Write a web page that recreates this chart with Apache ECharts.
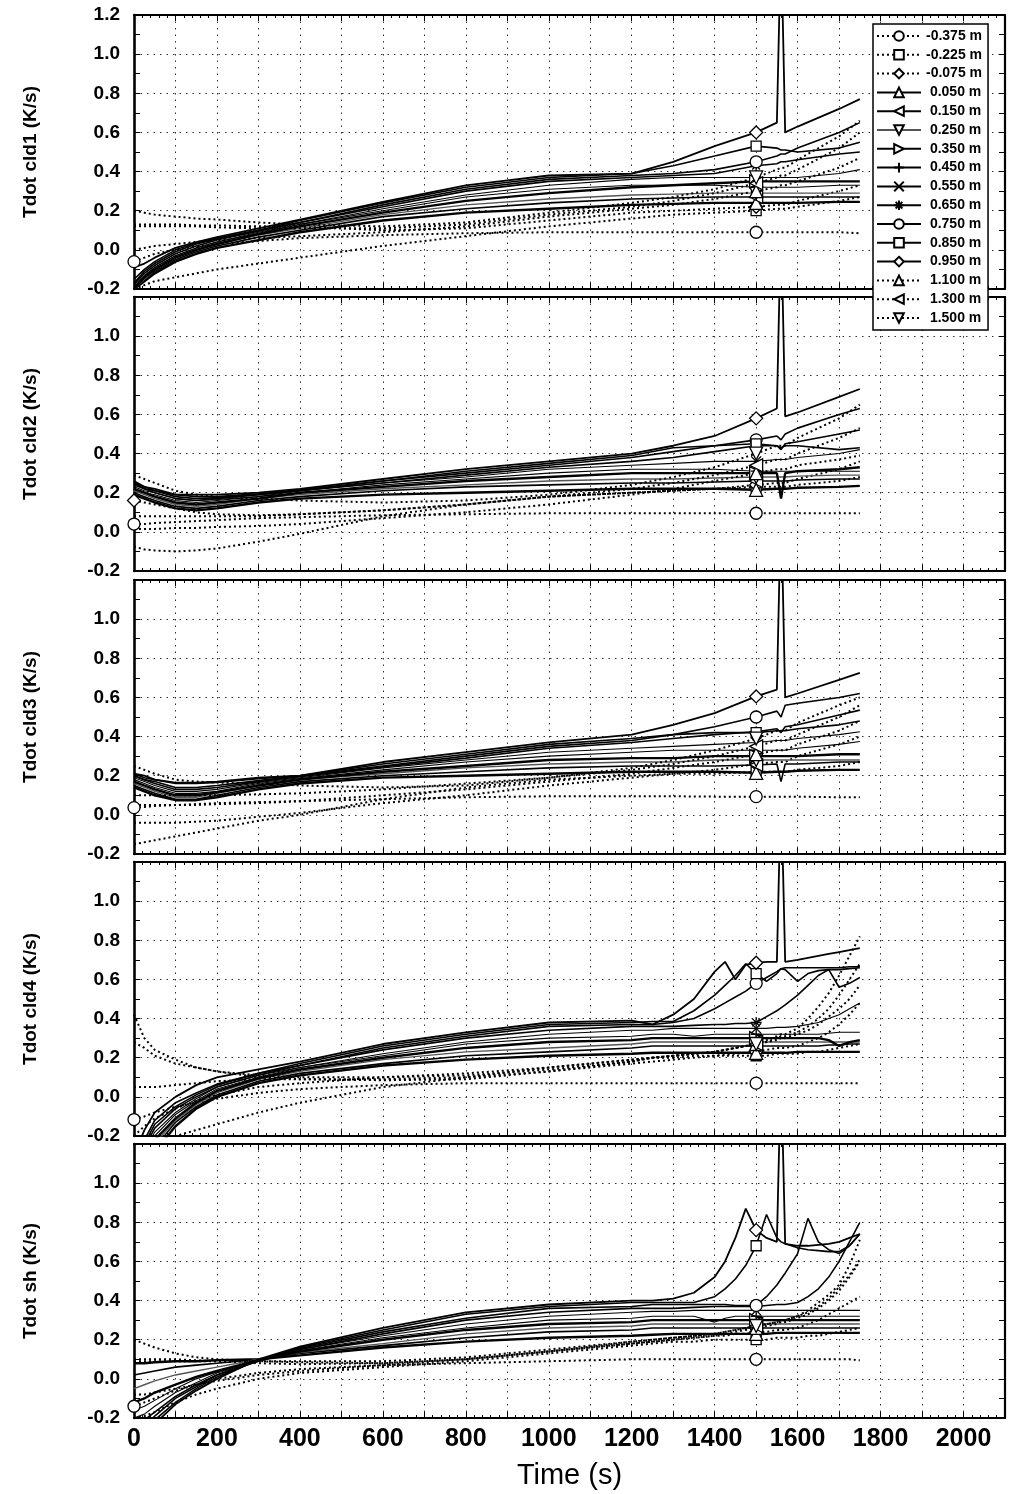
<!DOCTYPE html>
<html>
<head>
<meta charset="utf-8">
<script src="https://cdn.jsdelivr.net/npm/echarts@6/dist/echarts.min.js"></script>
<style>
  html, body { margin: 0; padding: 0; background: #fff; }
  #chart { width: 1009px; height: 1494px; }
</style>
</head>
<body>
<div id="chart"></div>
<script>
// Thermocouple depths (legend order)
const depths = ['-0.375 m', '-0.225 m', '-0.075 m', '0.050 m', '0.150 m', '0.250 m', '0.350 m', '0.450 m',
  '0.550 m', '0.650 m', '0.750 m', '0.850 m', '0.950 m', '1.100 m', '1.300 m', '1.500 m'];

const panelTitles = ['Tdot cld1 (K/s)', 'Tdot cld2 (K/s)', 'Tdot cld3 (K/s)', 'Tdot cld4 (K/s)', 'Tdot sh (K/s)'];

// Sample times (s)
const timeShort = [0, 25, 50, 100, 150, 200, 300, 400, 600, 800, 1000, 1200, 1300, 1400, 1500, 1550, 1560, 1570, 1600, 1700, 1750];
const timeLong = [0, 25, 50, 100, 150, 200, 300, 400, 600, 800, 1000, 1200, 1250, 1300, 1350, 1400, 1425, 1450, 1475, 1500,
  1525, 1550, 1560, 1570, 1600, 1625, 1650, 1675, 1700, 1725, 1750];

// Heating rates (K/s), one row per depth, sampled at timeShort
const cld1 = [
  [-0.06, -0.04, -0.02, 0.0, 0.02, 0.03, 0.045, 0.06, 0.075, 0.085, 0.09, 0.09, 0.09, 0.09, 0.09, 0.09, 0.09, 0.09, 0.09, 0.09, 0.085],
  [-0.2, -0.18, -0.16, -0.14, -0.12, -0.1, -0.07, -0.04, 0.02, 0.07, 0.12, 0.16, 0.18, 0.19, 0.2, 0.21, 0.21, 0.21, 0.22, 0.25, 0.27],
  [0.13, 0.13, 0.13, 0.13, 0.125, 0.125, 0.12, 0.12, 0.1, 0.11, 0.15, 0.19, 0.2, 0.21, 0.22, 0.23, 0.23, 0.23, 0.25, 0.3, 0.33],
  [-0.2, -0.16, -0.12, -0.06, -0.02, 0.01, 0.05, 0.09, 0.15, 0.19, 0.21, 0.23, 0.235, 0.24, 0.24, 0.24, 0.24, 0.24, 0.24, 0.245, 0.245],
  [-0.19, -0.15, -0.11, -0.05, -0.01, 0.02, 0.065, 0.1, 0.17, 0.21, 0.24, 0.26, 0.265, 0.27, 0.27, 0.27, 0.27, 0.27, 0.27, 0.27, 0.27],
  [-0.2, -0.15, -0.1, -0.04, 0.0, 0.03, 0.075, 0.11, 0.18, 0.23, 0.26, 0.28, 0.285, 0.29, 0.29, 0.29, 0.29, 0.29, 0.29, 0.29, 0.29],
  [-0.2, -0.14, -0.1, -0.04, 0.0, 0.03, 0.08, 0.12, 0.19, 0.25, 0.29, 0.32, 0.33, 0.34, 0.35, 0.35, 0.35, 0.35, 0.35, 0.35, 0.35],
  [-0.2, -0.14, -0.09, -0.03, 0.01, 0.04, 0.085, 0.13, 0.2, 0.27, 0.31, 0.33, 0.33, 0.33, 0.32, 0.32, 0.32, 0.32, 0.32, 0.33, 0.33],
  [-0.19, -0.13, -0.09, -0.03, 0.01, 0.04, 0.09, 0.13, 0.21, 0.28, 0.33, 0.36, 0.37, 0.37, 0.37, 0.37, 0.37, 0.37, 0.37, 0.39, 0.41],
  [-0.18, -0.12, -0.08, -0.02, 0.02, 0.05, 0.095, 0.14, 0.22, 0.3, 0.35, 0.37, 0.38, 0.39, 0.43, 0.44, 0.45, 0.45, 0.46, 0.49, 0.5],
  [-0.17, -0.11, -0.07, -0.01, 0.03, 0.055, 0.1, 0.14, 0.23, 0.31, 0.36, 0.38, 0.39, 0.41, 0.45, 0.48, 0.49, 0.49, 0.52, 0.6, 0.65],
  [-0.15, -0.1, -0.06, 0.0, 0.035, 0.06, 0.1, 0.15, 0.24, 0.32, 0.37, 0.39, 0.43, 0.48, 0.53, 0.52, 0.51, 0.51, 0.5, 0.52, 0.55],
  [-0.09, -0.07, -0.04, 0.01, 0.04, 0.065, 0.11, 0.155, 0.245, 0.33, 0.38, 0.39, 0.45, 0.53, 0.6, 0.65, 1.6, 0.6, 0.63, 0.72, 0.77],
  [0.0, 0.01, 0.02, 0.03, 0.04, 0.05, 0.06, 0.07, 0.09, 0.12, 0.17, 0.21, 0.23, 0.26, 0.3, 0.32, 0.33, 0.33, 0.35, 0.42, 0.47],
  [0.12, 0.12, 0.12, 0.12, 0.12, 0.115, 0.11, 0.11, 0.11, 0.13, 0.18, 0.22, 0.25, 0.29, 0.34, 0.37, 0.38, 0.38, 0.41, 0.52, 0.6],
  [0.2, 0.19, 0.18, 0.17, 0.16, 0.155, 0.14, 0.13, 0.12, 0.14, 0.19, 0.24, 0.27, 0.31, 0.37, 0.41, 0.42, 0.42, 0.46, 0.58, 0.66]
];

const cld2 = [
  [0.04, 0.04, 0.045, 0.05, 0.055, 0.06, 0.07, 0.075, 0.085, 0.09, 0.095, 0.095, 0.095, 0.095, 0.095, 0.095, 0.095, 0.095, 0.095, 0.095, 0.095],
  [-0.075, -0.09, -0.095, -0.1, -0.095, -0.085, -0.05, -0.01, 0.08, 0.14, 0.18, 0.2, 0.21, 0.22, 0.23, 0.23, 0.23, 0.23, 0.24, 0.26, 0.28],
  [0.16, 0.15, 0.14, 0.12, 0.1, 0.09, 0.085, 0.09, 0.11, 0.14, 0.18, 0.2, 0.21, 0.22, 0.24, 0.25, 0.25, 0.25, 0.27, 0.32, 0.36],
  [0.19, 0.17, 0.15, 0.12, 0.11, 0.12, 0.15, 0.17, 0.19, 0.2, 0.21, 0.22, 0.22, 0.22, 0.215, 0.22, 0.22, 0.22, 0.225, 0.23, 0.235],
  [0.2, 0.18, 0.16, 0.13, 0.12, 0.13, 0.16, 0.18, 0.21, 0.23, 0.24, 0.25, 0.25, 0.255, 0.26, 0.26, 0.26, 0.26, 0.265, 0.27, 0.27],
  [0.21, 0.19, 0.17, 0.14, 0.13, 0.14, 0.17, 0.19, 0.22, 0.24, 0.26, 0.27, 0.27, 0.275, 0.28, 0.28, 0.28, 0.28, 0.285, 0.29, 0.29],
  [0.22, 0.2, 0.18, 0.15, 0.14, 0.15, 0.17, 0.2, 0.23, 0.26, 0.28, 0.3, 0.3, 0.3, 0.3, 0.3, 0.17, 0.3, 0.31, 0.32, 0.33],
  [0.22, 0.2, 0.19, 0.16, 0.15, 0.16, 0.18, 0.2, 0.24, 0.27, 0.3, 0.32, 0.32, 0.32, 0.31, 0.31, 0.31, 0.31, 0.31, 0.31, 0.31],
  [0.23, 0.21, 0.2, 0.17, 0.16, 0.165, 0.18, 0.21, 0.25, 0.28, 0.32, 0.34, 0.35, 0.36, 0.36, 0.37, 0.37, 0.37, 0.38, 0.4, 0.42],
  [0.24, 0.22, 0.2, 0.17, 0.16, 0.17, 0.19, 0.21, 0.25, 0.29, 0.33, 0.36, 0.38, 0.41, 0.44, 0.44, 0.42, 0.45, 0.46, 0.5, 0.52],
  [0.25, 0.22, 0.21, 0.18, 0.17, 0.175, 0.19, 0.21, 0.26, 0.3, 0.34, 0.38, 0.41, 0.44, 0.47, 0.49, 0.47, 0.5, 0.53, 0.6, 0.63],
  [0.25, 0.23, 0.21, 0.19, 0.18, 0.18, 0.195, 0.215, 0.26, 0.31, 0.35, 0.39, 0.43, 0.44, 0.45, 0.44, 0.43, 0.44, 0.44, 0.42, 0.43],
  [0.26, 0.23, 0.22, 0.19, 0.19, 0.19, 0.2, 0.22, 0.27, 0.32, 0.36, 0.4, 0.44, 0.49, 0.58, 0.63, 1.6, 0.59, 0.61, 0.69, 0.73],
  [0.015, 0.015, 0.015, 0.02, 0.02, 0.025, 0.03, 0.04, 0.07, 0.1, 0.14, 0.19, 0.22, 0.26, 0.3, 0.32, 0.32, 0.32, 0.34, 0.37, 0.39],
  [0.08, 0.08, 0.08, 0.08, 0.08, 0.08, 0.08, 0.09, 0.11, 0.14, 0.18, 0.22, 0.25, 0.29, 0.34, 0.37, 0.37, 0.37, 0.4, 0.48, 0.53],
  [0.29, 0.27, 0.25, 0.21, 0.19, 0.18, 0.17, 0.16, 0.15, 0.16, 0.19, 0.24, 0.28, 0.33, 0.4, 0.44, 0.44, 0.44, 0.48, 0.58, 0.65]
];

const cld3 = [
  [0.037, 0.04, 0.045, 0.05, 0.055, 0.06, 0.065, 0.07, 0.08, 0.09, 0.095, 0.095, 0.095, 0.093, 0.093, 0.093, 0.093, 0.093, 0.093, 0.09, 0.09],
  [-0.15, -0.14, -0.13, -0.11, -0.09, -0.07, -0.03, 0.0, 0.08, 0.14, 0.18, 0.2, 0.21, 0.21, 0.22, 0.22, 0.22, 0.22, 0.23, 0.25, 0.27],
  [-0.04, -0.04, -0.04, -0.04, -0.035, -0.03, -0.01, 0.01, 0.06, 0.1, 0.15, 0.19, 0.21, 0.23, 0.26, 0.27, 0.27, 0.27, 0.3, 0.36, 0.4],
  [0.14, 0.12, 0.1, 0.075, 0.075, 0.09, 0.13, 0.16, 0.19, 0.2, 0.21, 0.22, 0.22, 0.22, 0.215, 0.22, 0.22, 0.22, 0.225, 0.23, 0.23],
  [0.15, 0.13, 0.11, 0.08, 0.08, 0.1, 0.14, 0.17, 0.2, 0.22, 0.24, 0.25, 0.25, 0.25, 0.255, 0.26, 0.17, 0.26, 0.26, 0.27, 0.27],
  [0.16, 0.14, 0.12, 0.09, 0.09, 0.11, 0.15, 0.18, 0.21, 0.24, 0.26, 0.27, 0.27, 0.28, 0.28, 0.28, 0.28, 0.28, 0.28, 0.28, 0.28],
  [0.17, 0.15, 0.13, 0.1, 0.1, 0.115, 0.15, 0.18, 0.22, 0.25, 0.28, 0.29, 0.29, 0.3, 0.3, 0.3, 0.3, 0.3, 0.3, 0.31, 0.31],
  [0.18, 0.16, 0.14, 0.11, 0.11, 0.12, 0.16, 0.185, 0.23, 0.27, 0.3, 0.32, 0.33, 0.33, 0.33, 0.33, 0.33, 0.33, 0.34, 0.36, 0.375],
  [0.19, 0.17, 0.15, 0.12, 0.12, 0.13, 0.165, 0.19, 0.24, 0.28, 0.32, 0.34, 0.35, 0.36, 0.37, 0.38, 0.38, 0.38, 0.39, 0.41, 0.425],
  [0.2, 0.18, 0.16, 0.13, 0.13, 0.14, 0.17, 0.195, 0.245, 0.29, 0.34, 0.37, 0.39, 0.41, 0.425, 0.44, 0.42, 0.45, 0.46, 0.51, 0.535],
  [0.2, 0.18, 0.17, 0.14, 0.14, 0.15, 0.175, 0.2, 0.25, 0.3, 0.35, 0.38, 0.41, 0.45, 0.5, 0.53, 0.5, 0.56, 0.57, 0.6, 0.62],
  [0.21, 0.19, 0.18, 0.16, 0.16, 0.165, 0.185, 0.2, 0.26, 0.31, 0.36, 0.39, 0.41, 0.42, 0.42, 0.43, 0.43, 0.43, 0.44, 0.46, 0.48],
  [0.21, 0.2, 0.18, 0.165, 0.165, 0.17, 0.19, 0.2, 0.27, 0.32, 0.37, 0.41, 0.46, 0.52, 0.605, 0.64, 1.6, 0.6, 0.62, 0.69, 0.725],
  [0.05, 0.05, 0.05, 0.05, 0.05, 0.055, 0.06, 0.07, 0.1, 0.13, 0.17, 0.21, 0.24, 0.27, 0.31, 0.33, 0.33, 0.33, 0.36, 0.43, 0.48],
  [0.1, 0.1, 0.1, 0.1, 0.1, 0.1, 0.105, 0.11, 0.13, 0.16, 0.19, 0.23, 0.26, 0.3, 0.35, 0.38, 0.38, 0.38, 0.41, 0.5, 0.56],
  [0.25, 0.23, 0.21, 0.18, 0.17, 0.165, 0.16, 0.15, 0.14, 0.15, 0.19, 0.24, 0.28, 0.33, 0.39, 0.43, 0.43, 0.43, 0.47, 0.56, 0.6]
];

// Sampled at timeLong
const cld4 = [
  [-0.116, -0.1, -0.08, -0.05, -0.03, -0.01, 0.02, 0.04, 0.06, 0.07, 0.07, 0.07, 0.07, 0.07, 0.07, 0.07, 0.07, 0.07, 0.07, 0.07, 0.07, 0.07, 0.07, 0.07, 0.07, 0.07, 0.07, 0.07, 0.07, 0.07, 0.07],
  [-0.3, -0.27, -0.24, -0.2, -0.17, -0.14, -0.08, -0.03, 0.05, 0.1, 0.15, 0.19, 0.2, 0.2, 0.21, 0.21, 0.21, 0.21, 0.21, 0.21, 0.21, 0.22, 0.22, 0.22, 0.22, 0.23, 0.23, 0.24, 0.25, 0.26, 0.27],
  [0.05, 0.05, 0.05, 0.06, 0.07, 0.08, 0.09, 0.09, 0.09, 0.1, 0.13, 0.17, 0.18, 0.19, 0.2, 0.21, 0.215, 0.22, 0.225, 0.23, 0.24, 0.25, 0.25, 0.25, 0.26, 0.28, 0.3, 0.33, 0.37, 0.42, 0.48],
  [-0.5, -0.38, -0.28, -0.15, -0.06, 0.0, 0.07, 0.11, 0.16, 0.19, 0.21, 0.22, 0.225, 0.225, 0.225, 0.225, 0.225, 0.225, 0.225, 0.225, 0.225, 0.225, 0.225, 0.225, 0.23, 0.23, 0.23, 0.23, 0.23, 0.23, 0.23],
  [-0.48, -0.36, -0.26, -0.13, -0.05, 0.01, 0.08, 0.12, 0.17, 0.21, 0.23, 0.25, 0.26, 0.26, 0.26, 0.26, 0.26, 0.26, 0.26, 0.26, 0.26, 0.26, 0.26, 0.26, 0.26, 0.26, 0.26, 0.265, 0.265, 0.27, 0.27],
  [-0.46, -0.34, -0.24, -0.12, -0.04, 0.02, 0.09, 0.13, 0.19, 0.23, 0.25, 0.27, 0.28, 0.28, 0.28, 0.28, 0.28, 0.28, 0.28, 0.28, 0.28, 0.28, 0.28, 0.28, 0.28, 0.28, 0.28, 0.28, 0.28, 0.28, 0.28],
  [-0.44, -0.32, -0.22, -0.11, -0.03, 0.03, 0.095, 0.14, 0.2, 0.25, 0.28, 0.29, 0.3, 0.3, 0.3, 0.3, 0.3, 0.3, 0.3, 0.3, 0.3, 0.3, 0.3, 0.3, 0.3, 0.3, 0.3, 0.29, 0.26, 0.28, 0.29],
  [-0.42, -0.3, -0.2, -0.09, -0.02, 0.04, 0.1, 0.15, 0.21, 0.27, 0.3, 0.31, 0.32, 0.32, 0.31, 0.32, 0.32, 0.32, 0.32, 0.32, 0.32, 0.32, 0.32, 0.32, 0.32, 0.32, 0.32, 0.325, 0.33, 0.33, 0.33],
  [-0.4, -0.28, -0.18, -0.08, -0.01, 0.05, 0.11, 0.15, 0.22, 0.28, 0.32, 0.34, 0.34, 0.35, 0.35, 0.35, 0.35, 0.35, 0.35, 0.35, 0.35, 0.355, 0.355, 0.355, 0.36, 0.37, 0.38, 0.4, 0.42, 0.45, 0.48],
  [-0.38, -0.26, -0.16, -0.06, 0.0, 0.05, 0.11, 0.16, 0.24, 0.3, 0.34, 0.36, 0.36, 0.36, 0.365, 0.37, 0.37, 0.375, 0.375, 0.38, 0.41, 0.44, 0.455, 0.47, 0.52, 0.57, 0.62, 0.65, 0.56, 0.58, 0.61],
  [-0.36, -0.24, -0.14, -0.05, 0.01, 0.06, 0.12, 0.16, 0.25, 0.31, 0.36, 0.37, 0.37, 0.38, 0.4, 0.45, 0.48, 0.51, 0.54, 0.58, 0.61, 0.64, 0.655, 0.65, 0.59, 0.63, 0.645, 0.65, 0.65, 0.655, 0.66],
  [-0.34, -0.22, -0.12, -0.03, 0.02, 0.065, 0.12, 0.17, 0.26, 0.32, 0.37, 0.38, 0.385, 0.385, 0.44, 0.52, 0.57, 0.62, 0.68, 0.63, 0.59, 0.63, 0.655, 0.66, 0.66, 0.66, 0.66, 0.66, 0.66, 0.665, 0.665],
  [-0.3, -0.17, -0.08, 0.0, 0.06, 0.1, 0.14, 0.18, 0.27, 0.33, 0.38, 0.39, 0.37, 0.42, 0.5, 0.64, 0.69, 0.6, 0.675, 0.685, 0.69, 0.69, 1.6, 0.69, 0.7, 0.71, 0.72, 0.73, 0.74, 0.75, 0.76],
  [-0.2, -0.15, -0.11, -0.06, -0.02, 0.01, 0.05, 0.07, 0.1, 0.12, 0.15, 0.19, 0.2, 0.21, 0.22, 0.23, 0.24, 0.25, 0.26, 0.27, 0.28, 0.29, 0.3, 0.3, 0.32, 0.34, 0.37, 0.41, 0.45, 0.5, 0.57],
  [0.28, 0.25, 0.21, 0.17, 0.15, 0.13, 0.11, 0.1, 0.1, 0.11, 0.14, 0.18, 0.2, 0.21, 0.22, 0.23, 0.24, 0.25, 0.26, 0.27, 0.28, 0.3, 0.31, 0.31, 0.33, 0.36, 0.4, 0.45, 0.52, 0.6, 0.68],
  [0.42, 0.3, 0.24, 0.19, 0.15, 0.13, 0.1, 0.09, 0.085, 0.09, 0.13, 0.18, 0.2, 0.21, 0.22, 0.23, 0.24, 0.25, 0.26, 0.27, 0.29, 0.31, 0.32, 0.32, 0.35, 0.4, 0.46, 0.53, 0.62, 0.72, 0.82]
];

const sh = [
  [-0.14, -0.12, -0.1, -0.06, -0.03, 0.0, 0.03, 0.05, 0.07, 0.08, 0.09, 0.1, 0.1, 0.1, 0.1, 0.1, 0.1, 0.1, 0.1, 0.1, 0.1, 0.1, 0.1, 0.1, 0.1, 0.1, 0.1, 0.1, 0.1, 0.1, 0.095],
  [-0.2, -0.19, -0.17, -0.12, -0.08, -0.05, 0.0, 0.03, 0.06, 0.09, 0.13, 0.17, 0.18, 0.19, 0.19, 0.2, 0.2, 0.2, 0.2, 0.2, 0.2, 0.21, 0.21, 0.21, 0.21, 0.22, 0.22, 0.23, 0.24, 0.25, 0.26],
  [0.1, 0.1, 0.1, 0.1, 0.095, 0.09, 0.08, 0.075, 0.08, 0.1, 0.14, 0.18, 0.19, 0.2, 0.21, 0.22, 0.22, 0.23, 0.23, 0.24, 0.24, 0.25, 0.25, 0.25, 0.26, 0.28, 0.3, 0.33, 0.36, 0.39, 0.42],
  [0.08, 0.08, 0.085, 0.09, 0.09, 0.095, 0.1, 0.12, 0.16, 0.19, 0.21, 0.22, 0.225, 0.23, 0.23, 0.23, 0.23, 0.23, 0.23, 0.23, 0.23, 0.235, 0.235, 0.235, 0.235, 0.235, 0.235, 0.235, 0.235, 0.235, 0.235],
  [0.02, 0.03, 0.04, 0.06, 0.07, 0.08, 0.1, 0.13, 0.17, 0.21, 0.24, 0.25, 0.26, 0.26, 0.26, 0.26, 0.26, 0.26, 0.26, 0.26, 0.26, 0.26, 0.26, 0.26, 0.26, 0.26, 0.26, 0.26, 0.26, 0.26, 0.26],
  [-0.05, -0.03, -0.01, 0.02, 0.04, 0.06, 0.1, 0.135, 0.18, 0.23, 0.26, 0.27, 0.28, 0.28, 0.28, 0.28, 0.28, 0.28, 0.28, 0.28, 0.28, 0.28, 0.28, 0.28, 0.28, 0.28, 0.28, 0.28, 0.28, 0.28, 0.28],
  [-0.12, -0.1, -0.07, -0.03, 0.01, 0.04, 0.095, 0.14, 0.2, 0.25, 0.28, 0.29, 0.3, 0.3, 0.3, 0.3, 0.3, 0.3, 0.3, 0.3, 0.3, 0.3, 0.3, 0.3, 0.3, 0.3, 0.3, 0.3, 0.3, 0.3, 0.3],
  [-0.16, -0.14, -0.11, -0.05, 0.0, 0.035, 0.095, 0.145, 0.21, 0.26, 0.3, 0.31, 0.32, 0.32, 0.32, 0.29, 0.31, 0.32, 0.32, 0.32, 0.32, 0.32, 0.32, 0.32, 0.32, 0.32, 0.32, 0.32, 0.32, 0.32, 0.32],
  [-0.2, -0.18, -0.14, -0.07, -0.02, 0.03, 0.09, 0.15, 0.22, 0.28, 0.32, 0.34, 0.345, 0.345, 0.35, 0.35, 0.35, 0.35, 0.35, 0.35, 0.35, 0.35, 0.35, 0.35, 0.35, 0.35, 0.35, 0.35, 0.35, 0.35, 0.35],
  [-0.24, -0.21, -0.17, -0.09, -0.03, 0.02, 0.09, 0.15, 0.23, 0.3, 0.34, 0.36, 0.36, 0.36, 0.365, 0.37, 0.37, 0.37, 0.37, 0.37, 0.375, 0.38, 0.38, 0.38, 0.39, 0.42, 0.46, 0.52, 0.6, 0.7, 0.8],
  [-0.27, -0.24, -0.19, -0.1, -0.04, 0.02, 0.095, 0.155, 0.24, 0.31, 0.36, 0.37, 0.38, 0.38, 0.38, 0.38, 0.38, 0.375, 0.375, 0.375, 0.42, 0.48, 0.51, 0.54, 0.64, 0.82, 0.7, 0.66, 0.64, 0.68, 0.74],
  [-0.3, -0.26, -0.21, -0.12, -0.05, 0.01, 0.095, 0.16, 0.25, 0.33, 0.37, 0.39, 0.39, 0.39, 0.39, 0.42, 0.46, 0.51, 0.58, 0.68, 0.84, 0.72, 0.7, 0.69, 0.67, 0.66, 0.655, 0.65, 0.65, 0.68, 0.74],
  [-0.33, -0.28, -0.23, -0.13, -0.06, 0.0, 0.1, 0.165, 0.26, 0.34, 0.38, 0.4, 0.4, 0.41, 0.44, 0.52, 0.6, 0.72, 0.87, 0.76, 0.72, 0.7, 1.6, 0.69, 0.68, 0.68, 0.685, 0.69, 0.7, 0.72, 0.74],
  [-0.08, -0.08, -0.07, -0.05, -0.03, -0.01, 0.02, 0.04, 0.07, 0.1, 0.14, 0.18, 0.19, 0.2, 0.21, 0.22, 0.23, 0.24, 0.25, 0.26, 0.27, 0.28, 0.29, 0.29, 0.31, 0.33, 0.36, 0.4, 0.45, 0.52, 0.6],
  [0.09, 0.09, 0.09, 0.09, 0.09, 0.09, 0.09, 0.09, 0.09, 0.11, 0.15, 0.19, 0.2, 0.21, 0.22, 0.23, 0.24, 0.25, 0.26, 0.27, 0.28, 0.29, 0.3, 0.3, 0.32, 0.34, 0.37, 0.41, 0.47, 0.53, 0.61],
  [0.2, 0.18, 0.16, 0.13, 0.11, 0.1, 0.09, 0.085, 0.08, 0.1, 0.14, 0.19, 0.2, 0.21, 0.22, 0.23, 0.24, 0.25, 0.26, 0.27, 0.28, 0.29, 0.3, 0.3, 0.32, 0.35, 0.39, 0.43, 0.48, 0.58, 0.71]
];

// Markers at the start of the record for these depths, per panel
const startMarked = [['-0.375 m'], ['-0.375 m', '-0.075 m'], ['-0.375 m'], ['-0.375 m'], ['-0.375 m']];
const markerTime = 1500;

// ---- styling ----
const FONT = "'Liberation Sans', Arial, Helvetica, sans-serif";
const DOT = [2, 3];
const lineStyles = [
  { symbol: 'circle', size: 12, dash: DOT, width: 2 },
  { symbol: 'rect', size: 10, dash: DOT, width: 2 },
  { symbol: 'diamond', size: 13, dash: DOT, width: 2 },
  { symbol: 'triangle', size: 13, dash: 'solid', width: 2.4 },
  { symbol: 'triangle', size: 13, rotate: 90, dash: 'solid', width: 1.6 },
  { symbol: 'triangle', size: 13, rotate: 180, dash: 'solid', width: 1.4, color: '#555' },
  { symbol: 'triangle', size: 13, rotate: -90, dash: 'solid', width: 2.4 },
  { symbol: 'path://M5,0L5,10M0,5L10,5', size: 11, dash: 'solid', width: 1.1 },
  { symbol: 'path://M0,0L10,10M10,0L0,10', size: 10, dash: 'solid', width: 1.1 },
  { symbol: 'path://M5,0L5,10M0,5L10,5M1.5,1.5L8.5,8.5M8.5,1.5L1.5,8.5', size: 11, dash: 'solid', width: 1.6 },
  { symbol: 'circle', size: 12, dash: 'solid', width: 1.6 },
  { symbol: 'rect', size: 10, dash: 'solid', width: 1.6 },
  { symbol: 'diamond', size: 13, dash: 'solid', width: 1.8 },
  { symbol: 'triangle', size: 13, dash: DOT, width: 2 },
  { symbol: 'triangle', size: 13, rotate: 90, dash: DOT, width: 2 },
  { symbol: 'triangle', size: 13, rotate: 180, dash: DOT, width: 2 }
];

const panels = [
  { title: panelTitles[0], time: timeShort, rows: cld1 },
  { title: panelTitles[1], time: timeShort, rows: cld2 },
  { title: panelTitles[2], time: timeShort, rows: cld3 },
  { title: panelTitles[3], time: timeLong, rows: cld4 },
  { title: panelTitles[4], time: timeLong, rows: sh }
];

const gridTops = [15, 297, 580, 862, 1144];
const GRID_LEFT = 134, GRID_W = 871, GRID_H = 274;

const grids = [], xAxes = [], yAxes = [], series = [];
const gridLine = { color: '#333', type: [1.5, 5], width: 1 };
const frame = { color: '#000', width: 2.2 };

panels.forEach((p, i) => {
  const last = i === panels.length - 1;
  grids.push({ left: GRID_LEFT, top: gridTops[i], width: GRID_W, height: GRID_H, outerBoundsMode: 'none' });

  // bottom time axis
  xAxes.push({
    type: 'value', gridIndex: i, min: 0, max: 2100, interval: 100, position: 'bottom',
    axisLine: { show: true, onZero: false, lineStyle: frame },
    axisTick: { show: true, inside: true, length: 6, lineStyle: { color: '#000', width: 1 } },
    minorTick: { show: true, splitNumber: 5, length: 3, lineStyle: { color: '#000', width: 1 } },
    axisLabel: {
      show: last, margin: 9, color: '#000', fontFamily: FONT, fontSize: 25, fontWeight: 'bold',
      formatter: v => (v % 200 === 0 && v <= 2000) ? String(v) : ''
    },
    splitLine: { show: true, lineStyle: gridLine },
    name: last ? 'Time (s)' : '', nameLocation: 'middle', nameGap: 43,
    nameTextStyle: { color: '#000', fontFamily: FONT, fontSize: 29 }
  });
  // top frame with ticks
  xAxes.push({
    type: 'value', gridIndex: i, min: 0, max: 2100, interval: 100, position: 'top',
    axisLine: { show: true, onZero: false, lineStyle: frame },
    axisTick: { show: true, inside: true, length: 6, lineStyle: { color: '#000', width: 1 } },
    minorTick: { show: true, splitNumber: 5, length: 3, lineStyle: { color: '#000', width: 1 } },
    axisLabel: { show: false }, splitLine: { show: false }
  });
  // left rate axis
  yAxes.push({
    type: 'value', gridIndex: i, min: -0.2, max: 1.2, interval: 0.2, position: 'left',
    axisLine: { show: true, onZero: false, lineStyle: { color: '#000', width: 2.6 } },
    axisTick: { show: true, inside: true, length: 6, lineStyle: { color: '#000', width: 1 } },
    minorTick: { show: true, splitNumber: 2, length: 6, lineStyle: { color: '#000', width: 1 } },
    axisLabel: {
      margin: 14, color: '#000', fontFamily: FONT, fontSize: 19, fontWeight: 'bold',
      formatter: v => (i > 0 && v > 1.15) ? '' : (Math.abs(v) < 1e-9 ? '0.0' : v.toFixed(1))
    },
    splitLine: { show: true, lineStyle: gridLine },
    name: p.title, nameLocation: 'middle', nameRotate: 90, nameGap: 94,
    nameTextStyle: { color: '#000', fontFamily: FONT, fontSize: 19, fontWeight: 'bold' }
  });
  // right frame with ticks
  yAxes.push({
    type: 'value', gridIndex: i, min: -0.2, max: 1.2, interval: 0.2, position: 'right',
    axisLine: { show: true, onZero: false, lineStyle: frame },
    axisTick: { show: true, inside: true, length: 6, lineStyle: { color: '#000', width: 1 } },
    minorTick: { show: true, splitNumber: 2, length: 6, lineStyle: { color: '#000', width: 1 } },
    axisLabel: { show: false }, splitLine: { show: false }
  });

  depths.forEach((name, j) => {
    const st = lineStyles[j];
    const marksStart = startMarked[i].includes(name);
    series.push({
      name, type: 'line', xAxisIndex: i * 2, yAxisIndex: i * 2,
      symbol: st.symbol, symbolSize: st.size, symbolRotate: st.rotate || 0,
      showSymbol: true, showAllSymbol: true, clip: true,
      lineStyle: { color: st.color || '#000', width: st.width, type: st.dash },
      itemStyle: { color: '#fff', borderColor: '#000', borderWidth: 1.3 },
      emphasis: { disabled: true },
      data: p.time.map((t, k) => ({
        value: [t, p.rows[j][k]],
        symbol: (t === markerTime || (t === 0 && marksStart)) ? st.symbol : 'none'
      }))
    });
  });
});

const chart = echarts.init(document.getElementById('chart'), null, { renderer: 'canvas' });
chart.setOption({
  animation: false,
  backgroundColor: '#fff',
  grid: grids,
  xAxis: xAxes,
  yAxis: yAxes,
  legend: {
    data: depths, orient: 'vertical', left: 873, top: 24,
    itemWidth: 44, itemHeight: 12, itemGap: 4.8, padding: [5, 6, 5, 3],
    backgroundColor: '#fff', borderColor: '#000', borderWidth: 1.5,
    selectedMode: false, z: 10,
    textStyle: { color: '#000', fontFamily: FONT, fontSize: 14, fontWeight: 'bold', lineHeight: 14 },
    formatter: n => n.charAt(0) === '-' ? n : ' ' + n
  },
  series
});
</script>
</body>
</html>
